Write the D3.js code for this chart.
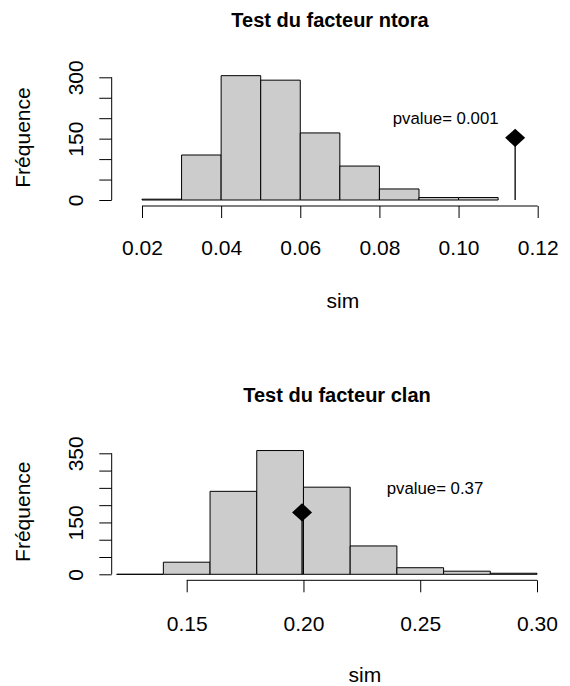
<!DOCTYPE html>
<html>
<head>
<meta charset="utf-8">
<script src="https://cdn.jsdelivr.net/npm/d3@7"></script>
<style>
  html, body { margin: 0; padding: 0; background: #fff; }
  svg { display: block; }
  text { font-family: "Liberation Sans", Arial, sans-serif; fill: #000; }
</style>
</head>
<body>
<svg id="chart" width="570" height="686"></svg>
<script>
// ---- Data ----
const ntoraBreaks = [0.02, 0.03, 0.04, 0.05, 0.06, 0.07, 0.08, 0.09, 0.10, 0.11];
const ntoraCounts = [2, 110, 304, 293, 164, 83, 27, 6, 6];
const ntoraObs = 0.1143;
const ntoraPvalue = "0.001";
const ntoraXTicks = [0.02, 0.04, 0.06, 0.08, 0.10, 0.12];
const ntoraYTicks = [0, 50, 100, 150, 200, 250, 300];
const ntoraYLabels = [0, 150, 300];

const clanBreaks = [0.12, 0.14, 0.16, 0.18, 0.20, 0.22, 0.24, 0.26, 0.28, 0.30];
const clanCounts = [0, 35, 240, 358, 252, 82, 19, 9, 3];
const clanObs = 0.1994;
const clanPvalue = "0.37";
const clanXTicks = [0.15, 0.20, 0.25, 0.30];
const clanYTicks = [0, 50, 100, 150, 200, 250, 300, 350];
const clanYLabels = [0, 150, 350];

const svg = d3.select("#chart");

function panel(cfg) {
  const g = svg.append("g");
  const x = d3.scaleLinear().domain(cfg.xDomain).range(cfg.xRange);
  const y = d3.scaleLinear().domain(cfg.yDomain).range(cfg.yRange);
  const bins = cfg.counts.map((c, i) => ({x0: cfg.breaks[i], x1: cfg.breaks[i + 1], n: c}));

  // bars (drawn as paths so zero-count bins still show their outline)
  g.selectAll("path.bar").data(bins).enter().append("path")
    .attr("class", "bar")
    .attr("d", d => `M${x(d.x0)},${y(0)}V${y(d.n)}H${x(d.x1)}V${y(0)}Z`)
    .attr("fill", "#cccccc")
    .attr("stroke", "#000")
    .attr("stroke-width", 1);

  // x axis
  const xAxis = d3.axisBottom(x).tickValues(cfg.xTicks).tickSize(12).tickPadding(0)
    .tickFormat(d3.format(".2f"));
  const gx = g.append("g").attr("transform", `translate(0,${cfg.xAxisY})`).call(xAxis);
  gx.select(".domain").attr("d", `M${x(cfg.xTicks[0])},0H${x(cfg.xTicks[cfg.xTicks.length - 1])}`)
    .attr("stroke", "#000");
  gx.selectAll(".tick line").attr("stroke", "#000");
  gx.selectAll(".tick text").attr("font-size", 21).attr("dy", null)
    .attr("y", cfg.xLabelBaseline - cfg.xAxisY).attr("dominant-baseline", "alphabetic")
    .style("font-family", "'Liberation Sans', Arial, sans-serif").attr("fill", "#000");
  gx.attr("font-family", null).attr("font-size", null);

  // y axis
  const yAxis = d3.axisLeft(y).tickValues(cfg.yTicks).tickSize(12.4)
    .tickFormat(d => cfg.yLabels.includes(d) ? d : "");
  const gy = g.append("g").attr("transform", `translate(${cfg.yAxisX},0)`).call(yAxis);
  gy.select(".domain").attr("d", `M0,${y(cfg.yTicks[0])}V${y(cfg.yTicks[cfg.yTicks.length - 1])}`)
    .attr("stroke", "#000");
  gy.selectAll(".tick line").attr("stroke", "#000");
  gy.selectAll(".tick text")
    .attr("font-size", 21).attr("x", null).attr("dy", null)
    .attr("text-anchor", "middle")
    .attr("transform", `translate(${cfg.yLabelBaseline - cfg.yAxisX},0) rotate(-90)`)
    .style("font-family", "'Liberation Sans', Arial, sans-serif").attr("fill", "#000");
  gy.attr("font-family", null).attr("font-size", null);

  // observed value
  const half = d3.max(cfg.counts) / 2;
  g.append("line")
    .attr("x1", x(cfg.obs)).attr("x2", x(cfg.obs))
    .attr("y1", y(0)).attr("y2", y(half))
    .attr("stroke", "#000").attr("stroke-width", 1.3);
  const cx = x(cfg.obs), cy = y(half);
  g.append("path")
    .attr("d", `M${cx},${cy - 9.2}L${cx + 10},${cy}L${cx},${cy + 9.2}L${cx - 10},${cy}Z`)
    .attr("fill", "#000");

  // texts
  g.append("text").attr("x", cfg.titleX).attr("y", cfg.titleY)
    .attr("text-anchor", "middle").attr("font-weight", "bold").attr("font-size", 20)
    .text(cfg.title);
  g.append("text").attr("x", cfg.pvX).attr("y", cfg.pvY)
    .attr("font-size", 16.8).text("pvalue= " + cfg.pvalue);
  g.append("text").attr("x", (x(cfg.xTicks[0]) + x(cfg.xTicks[cfg.xTicks.length - 1])) / 2 + 3)
    .attr("y", cfg.simY).attr("text-anchor", "middle").attr("font-size", 21).text("sim");
  g.append("text")
    .attr("transform", `translate(${cfg.ylabX},${cfg.ylabY}) rotate(-90)`)
    .attr("text-anchor", "middle").attr("font-size", 21).text("Fréquence");
}

panel({
  breaks: ntoraBreaks, counts: ntoraCounts, obs: ntoraObs, pvalue: ntoraPvalue,
  xTicks: ntoraXTicks, yTicks: ntoraYTicks, yLabels: ntoraYLabels,
  xDomain: [0.02, 0.12], xRange: [142, 537.7],
  yDomain: [0, 300], yRange: [200, 77.3],
  xAxisY: 206, xLabelBaseline: 255, yAxisX: 111.7, yLabelBaseline: 83.3,
  title: "Test du facteur ntora", titleX: 330, titleY: 27,
  pvX: 392.7, pvY: 124.3, simY: 308, ylabX: 30, ylabY: 137.5
});

panel({
  breaks: clanBreaks, counts: clanCounts, obs: clanObs, pvalue: clanPvalue,
  xTicks: clanXTicks, yTicks: clanYTicks, yLabels: clanYLabels,
  xDomain: [0.15, 0.30], xRange: [186.7, 537],
  yDomain: [0, 350], yRange: [574.3, 453.3],
  xAxisY: 580.3, xLabelBaseline: 630.7, yAxisX: 111.7, yLabelBaseline: 83.3,
  title: "Test du facteur clan", titleX: 337, titleY: 402,
  pvX: 386.7, pvY: 494.3, simY: 682, ylabX: 30, ylabY: 511.7
});
</script>
</body>
</html>
